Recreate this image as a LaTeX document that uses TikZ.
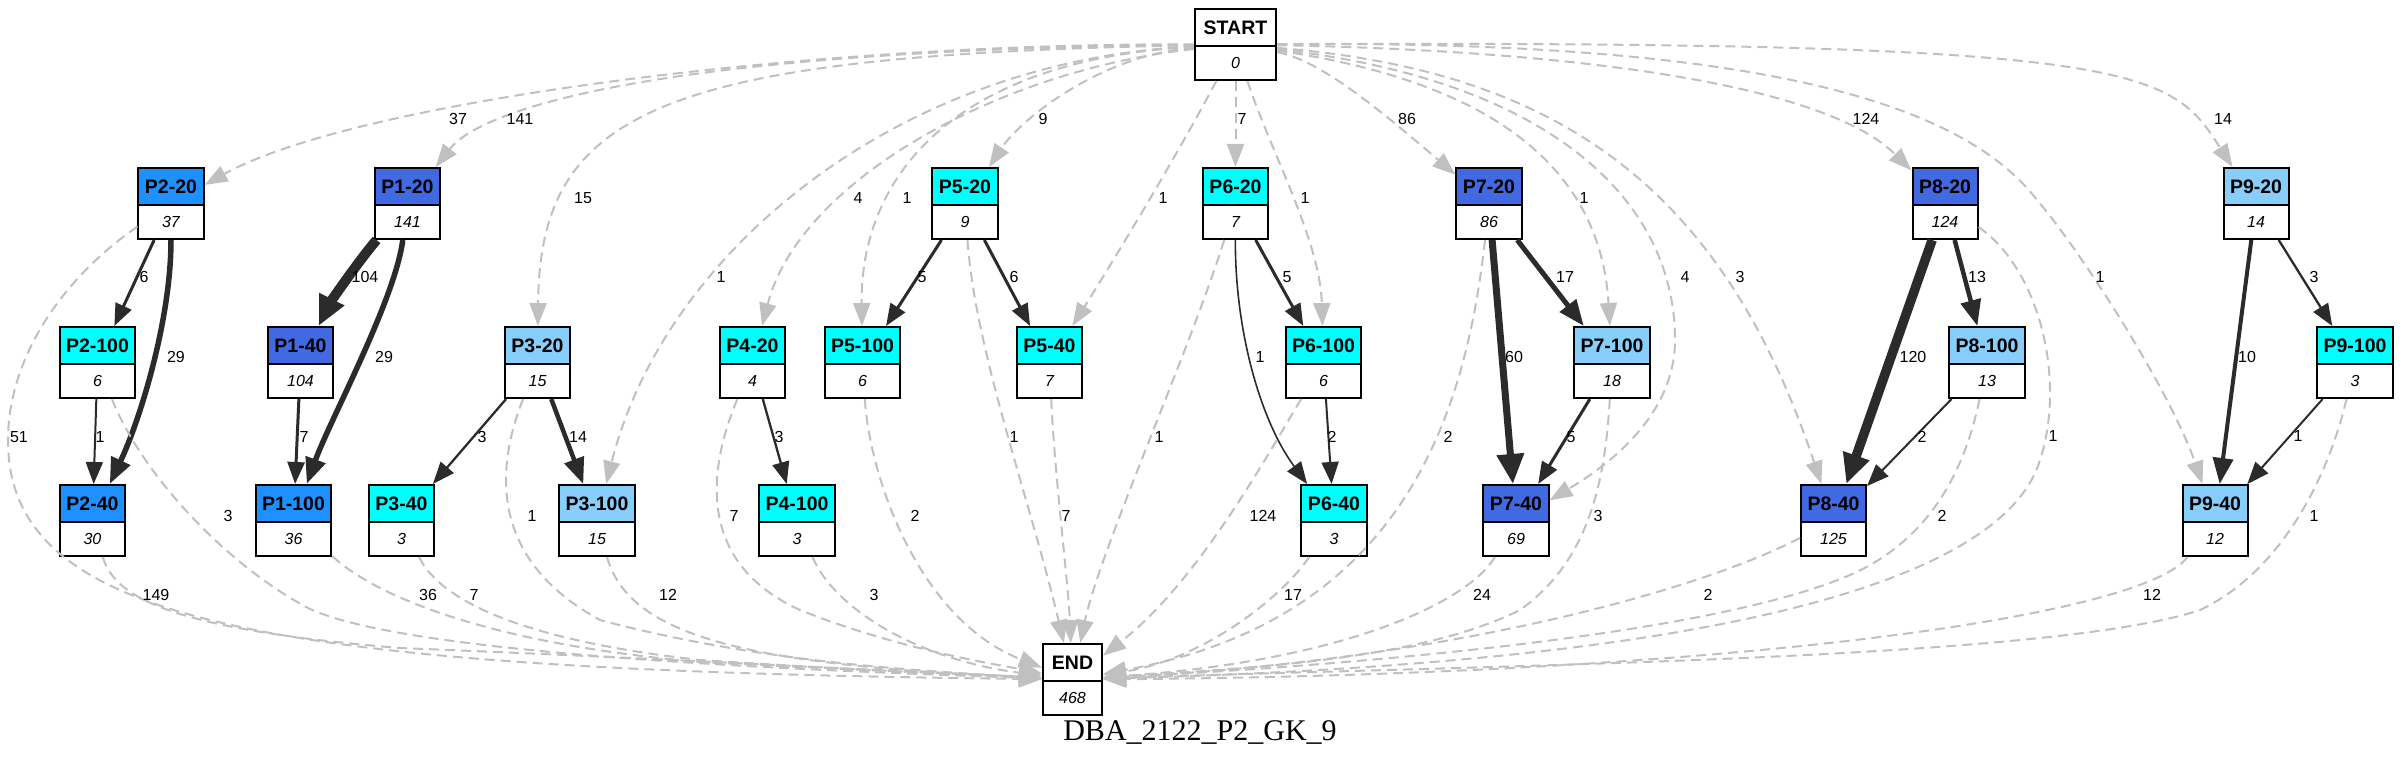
\documentclass[tikz,border=0pt]{standalone}
\usepackage{fontspec}
\setmainfont{Liberation Sans}
\newfontfamily\titlefont{Liberation Serif}
\usepackage{xcolor}
\usepackage{tikz}
\usetikzlibrary{shapes.multipart, arrows.meta}

\definecolor{dodger}{RGB}{30,144,255}
\definecolor{royal}{RGB}{65,105,225}
\definecolor{sky}{RGB}{135,206,250}
\definecolor{aqua}{RGB}{0,255,255}
\definecolor{silver}{RGB}{192,192,192}
\definecolor{ink}{RGB}{43,43,43}

\newcommand{\phead}[1]{\rule[-5.25pt]{0pt}{17.5pt}{\fontsize{9.75pt}{11pt}\selectfont\bfseries #1}}
\newcommand{\pcount}[1]{\rule[-5.15pt]{0pt}{16pt}{\fontsize{8pt}{9pt}\selectfont\itshape #1}}

\begin{document}
\begin{tikzpicture}[x=0.5pt,y=-0.5pt,
    pbox/.style={rectangle split, rectangle split parts=2, draw=black, line width=1pt,
        inner xsep=3.25pt, inner ysep=0pt, rectangle split part fill={#1,white}, anchor=north},
    wide/.style={inner xsep=4.5pt},
    lbl/.style={font=\fontsize{8pt}{9pt}\selectfont, inner sep=0pt},
    dashedge/.style={draw=silver, line width=1pt, dash pattern=on 5pt off 3pt,
        -{Triangle[length=11.5pt,width=8.5pt]}},
    flow/.style={draw=ink, line width=#1, -{Triangle[length=11pt,width=8.5pt]}},
    midtip/.style={-{Triangle[length=13pt,width=10pt]}},
    bigtip/.style={-{Triangle[length=15pt,width=13pt]}}]
        \useasboundingbox (0,0) rectangle (2400,765);
        % boxes
        \node[pbox=white,wide] (start) at (1235.5,8) {\phead{START}\nodepart{two}\pcount{0}};
        \node[pbox=dodger] (p2_20) at (171,167) {\phead{P2-20}\nodepart{two}\pcount{37}};
        \node[pbox=royal] (p1_20) at (407.5,167) {\phead{P1-20}\nodepart{two}\pcount{141}};
        \node[pbox=aqua] (p5_20) at (965,167) {\phead{P5-20}\nodepart{two}\pcount{9}};
        \node[pbox=aqua] (p6_20) at (1235.5,167) {\phead{P6-20}\nodepart{two}\pcount{7}};
        \node[pbox=royal] (p7_20) at (1489,167) {\phead{P7-20}\nodepart{two}\pcount{86}};
        \node[pbox=royal] (p8_20) at (1945,167) {\phead{P8-20}\nodepart{two}\pcount{124}};
        \node[pbox=sky] (p9_20) at (2256,167) {\phead{P9-20}\nodepart{two}\pcount{14}};
        \node[pbox=aqua] (p2_100) at (97.5,326) {\phead{P2-100}\nodepart{two}\pcount{6}};
        \node[pbox=royal] (p1_40) at (300.5,326) {\phead{P1-40}\nodepart{two}\pcount{104}};
        \node[pbox=sky] (p3_20) at (537.5,326) {\phead{P3-20}\nodepart{two}\pcount{15}};
        \node[pbox=aqua] (p4_20) at (752.5,326) {\phead{P4-20}\nodepart{two}\pcount{4}};
        \node[pbox=aqua] (p5_100) at (862.5,326) {\phead{P5-100}\nodepart{two}\pcount{6}};
        \node[pbox=aqua] (p5_40) at (1049.5,326) {\phead{P5-40}\nodepart{two}\pcount{7}};
        \node[pbox=aqua] (p6_100) at (1323.5,326) {\phead{P6-100}\nodepart{two}\pcount{6}};
        \node[pbox=sky] (p7_100) at (1612,326) {\phead{P7-100}\nodepart{two}\pcount{18}};
        \node[pbox=sky] (p8_100) at (1987,326) {\phead{P8-100}\nodepart{two}\pcount{13}};
        \node[pbox=aqua] (p9_100) at (2355,326) {\phead{P9-100}\nodepart{two}\pcount{3}};
        \node[pbox=dodger] (p2_40) at (92.5,484) {\phead{P2-40}\nodepart{two}\pcount{30}};
        \node[pbox=dodger] (p1_100) at (293.5,484) {\phead{P1-100}\nodepart{two}\pcount{36}};
        \node[pbox=aqua] (p3_40) at (401.5,484) {\phead{P3-40}\nodepart{two}\pcount{3}};
        \node[pbox=sky] (p3_100) at (597,484) {\phead{P3-100}\nodepart{two}\pcount{15}};
        \node[pbox=aqua] (p4_100) at (797,484) {\phead{P4-100}\nodepart{two}\pcount{3}};
        \node[pbox=aqua] (p6_40) at (1334,484) {\phead{P6-40}\nodepart{two}\pcount{3}};
        \node[pbox=royal] (p7_40) at (1516,484) {\phead{P7-40}\nodepart{two}\pcount{69}};
        \node[pbox=royal] (p8_40) at (1833.5,484) {\phead{P8-40}\nodepart{two}\pcount{125}};
        \node[pbox=sky] (p9_40) at (2215,484) {\phead{P9-40}\nodepart{two}\pcount{12}};
        \node[pbox=white,wide] (end) at (1072.5,643) {\phead{END}\nodepart{two}\pcount{468}};
        \node[anchor=base, font=\titlefont\fontsize{15pt}{18pt}\selectfont] (title) at (1200,740) {DBA\_2122\_P2\_GK\_9};

        % out of START
        \draw[dashedge] (start) .. controls (800,43) and (354,102) .. (p2_20) node[lbl] at (458,119) {37};
        \draw[dashedge] (start) .. controls (650,50) and (480,110) .. (p1_20) node[lbl] at (520,119) {141};
        \draw[dashedge] (start) .. controls (660,55) and (540,110) .. (p3_20) node[lbl] at (583,198) {15};
        \draw[dashedge] (start) .. controls (900,60) and (665,250) .. (p3_100) node[lbl] at (721,277) {1};
        \draw[dashedge] (start) .. controls (1000,70) and (800,180) .. (p4_20) node[lbl] at (858,198) {4};
        \draw[dashedge] (start) .. controls (950,60) and (860,180) .. (p5_100) node[lbl] at (907,198) {1};
        \draw[dashedge] (start) .. controls (1100,55) and (1020,120) .. (p5_20) node[lbl] at (1043,119) {9};
        \draw[dashedge] (start) .. controls (1180,150) and (1120,250) .. (p5_40) node[lbl] at (1163,198) {1};
        \draw[dashedge] (start) -- (p6_20) node[lbl] at (1242,119) {7};
        \draw[dashedge] (start) .. controls (1270,150) and (1320,240) .. (p6_100) node[lbl] at (1305,198) {1};
        \draw[dashedge] (start) .. controls (1320,60) and (1380,110) .. (p7_20) node[lbl] at (1407,119) {86};
        \draw[dashedge] (start) .. controls (1480,80) and (1600,160) .. (p7_100) node[lbl] at (1584,198) {1};
        \draw[dashedge] (start) .. controls (1550,80) and (1675,200) .. (1675,340)
                                .. controls (1675,420) and (1600,470) .. (p7_40) node[lbl] at (1685,277) {4};
        \draw[dashedge] (start) .. controls (1550,70) and (1720,180) .. (p8_40) node[lbl] at (1740,277) {3};
        \draw[dashedge] (start) .. controls (1550,50) and (1820,80) .. (p8_20) node[lbl] at (1866,119) {124};
        \draw[dashedge] (start) .. controls (1750,40) and (1960,100) .. (2037,200)
                                .. controls (2080,250) and (2170,390) .. (p9_40) node[lbl] at (2100,277) {1};
        \draw[dashedge] (start) .. controls (2150,40) and (2170,70) .. (p9_20) node[lbl] at (2223,119) {14};

        % between the boxes
        \draw[flow=1.5pt] (p2_20) -- (p2_100) node[lbl] at (144,277) {6};
        \draw[flow=2.75pt,midtip] (p2_20) .. controls (171,320) and (140,420) .. (p2_40) node[lbl] at (176,357) {29};
        \draw[flow=5pt,bigtip] (p1_20) .. controls (357,263) and (330,303) .. (p1_40) node[lbl] at (365,277) {104};
        \draw[flow=2.75pt,midtip] (p1_20) .. controls (395,300) and (330,420) .. (p1_100) node[lbl] at (384,357) {29};
        \draw[flow=1pt] (p2_100) -- (p2_40) node[lbl] at (100,437) {1};
        \draw[flow=1.5pt] (p1_40) -- (p1_100) node[lbl] at (304,437) {7};
        \draw[flow=1.15pt] (p3_20) -- (p3_40) node[lbl] at (482,437) {3};
        \draw[flow=2.25pt,midtip] (p3_20) -- (p3_100) node[lbl] at (578,437) {14};
        \draw[flow=1.15pt] (p4_20) -- (p4_100) node[lbl] at (779,437) {3};
        \draw[flow=1.5pt] (p5_20) -- (p5_100) node[lbl] at (922,277) {5};
        \draw[flow=1.5pt] (p5_20) -- (p5_40) node[lbl] at (1014,277) {6};
        \draw[flow=1.5pt] (p6_20) -- (p6_100) node[lbl] at (1287,277) {5};
        \draw[flow=0.8pt] (p6_20) .. controls (1235,330) and (1260,420) .. (p6_40) node[lbl] at (1260,357) {1};
        \draw[flow=1pt] (p6_100) -- (p6_40) node[lbl] at (1332,437) {2};
        \draw[flow=3.5pt,bigtip] (p7_20) -- (p7_40) node[lbl] at (1514,357) {60};
        \draw[flow=2.5pt,midtip] (p7_20) -- (p7_100) node[lbl] at (1565,277) {17};
        \draw[flow=1.5pt] (p7_100) -- (p7_40) node[lbl] at (1571,437) {5};
        \draw[flow=4.75pt,bigtip] (p8_20) -- (p8_40) node[lbl] at (1913,357) {120};
        \draw[flow=2.25pt,midtip] (p8_20) -- (p8_100) node[lbl] at (1977,277) {13};
        \draw[flow=1pt] (p8_100) -- (p8_40) node[lbl] at (1922,437) {2};
        \draw[flow=2pt,midtip] (p9_20) -- (p9_40) node[lbl] at (2247,357) {10};
        \draw[flow=1.15pt] (p9_20) -- (p9_100) node[lbl] at (2314,277) {3};
        \draw[flow=1pt] (p9_100) -- (p9_40) node[lbl] at (2298,436) {1};

        % into END
        \draw[dashedge] (p2_20) .. controls (60,280) and (8,360) .. (8,440)
                                .. controls (8,620) and (250,670) .. (end) node[lbl] at (19,437) {51};
        \draw[dashedge] (p2_100) .. controls (140,470) and (220,560) .. (306,607)
                                 .. controls (400,655) and (800,670) .. (end) node[lbl] at (228,516) {3};
        \draw[dashedge] (p2_40) .. controls (115,600) and (180,630) .. (400,648)
                                .. controls (700,660) and (900,672) .. (end) node[lbl] at (156,595) {149};
        \draw[dashedge] (p1_100) .. controls (380,600) and (500,645) .. (700,662)
                                 .. controls (850,670) and (950,673) .. (end) node[lbl] at (428,595) {36};
        \draw[dashedge] (p3_40) .. controls (440,600) and (520,640) .. (700,660)
                                .. controls (850,670) and (950,673) .. (end) node[lbl] at (474,595) {7};
        \draw[dashedge] (p3_20) .. controls (495,470) and (490,560) .. (600,620)
                                .. controls (750,660) and (900,670) .. (end) node[lbl] at (532,516) {1};
        \draw[dashedge] (p3_100) .. controls (630,640) and (760,665) .. (end) node[lbl] at (668,595) {12};
        \draw[dashedge] (p4_20) .. controls (712,460) and (690,560) .. (800,610)
                                .. controls (900,650) and (1000,665) .. (end) node[lbl] at (734,516) {7};
        \draw[dashedge] (p4_100) .. controls (835,610) and (920,660) .. (end) node[lbl] at (874,595) {3};
        \draw[dashedge] (p5_100) .. controls (870,480) and (920,620) .. (end) node[lbl] at (915,516) {2};
        \draw[dashedge] (p5_20) .. controls (975,350) and (1030,500) .. (end) node[lbl] at (1014,437) {1};
        \draw[dashedge] (p5_40) .. controls (1055,480) and (1068,580) .. (end) node[lbl] at (1066,516) {7};
        \draw[dashedge] (p6_20) .. controls (1190,350) and (1100,550) .. (end) node[lbl] at (1159,437) {1};
        \draw[dashedge] (p6_100) .. controls (1270,450) and (1200,580) .. (end) node[lbl] at (1263,516) {124};
        \draw[dashedge] (p6_40) .. controls (1280,600) and (1200,660) .. (end) node[lbl] at (1293,595) {17};
        \draw[dashedge] (p7_20) .. controls (1465,420) and (1400,620) .. (end) node[lbl] at (1448,437) {2};
        \draw[dashedge] (p7_40) .. controls (1470,600) and (1350,660) .. (end) node[lbl] at (1482,595) {24};
        \draw[dashedge] (p7_100) .. controls (1605,480) and (1590,560) .. (1520,610)
                                 .. controls (1420,660) and (1250,668) .. (end) node[lbl] at (1598,516) {3};
        \draw[dashedge] (p8_40) .. controls (1700,590) and (1450,660) .. (end) node[lbl] at (1708,595) {2};
        \draw[dashedge] (p8_100) .. controls (1965,470) and (1930,540) .. (1850,575)
                                 .. controls (1700,640) and (1300,668) .. (end) node[lbl] at (1942,516) {2};
        \draw[dashedge] (p8_20) .. controls (2040,270) and (2066,380) .. (2040,460)
                                .. controls (2010,560) and (1800,660) .. (end) node[lbl] at (2053,436) {1};
        \draw[dashedge] (p9_40) .. controls (2140,620) and (1700,675) .. (end) node[lbl] at (2152,595) {12};
        \draw[dashedge] (p9_100) .. controls (2330,470) and (2285,570) .. (2200,610)
                                 .. controls (2050,660) and (1500,665) .. (end) node[lbl] at (2314,516) {1};
\end{tikzpicture}
\end{document}
